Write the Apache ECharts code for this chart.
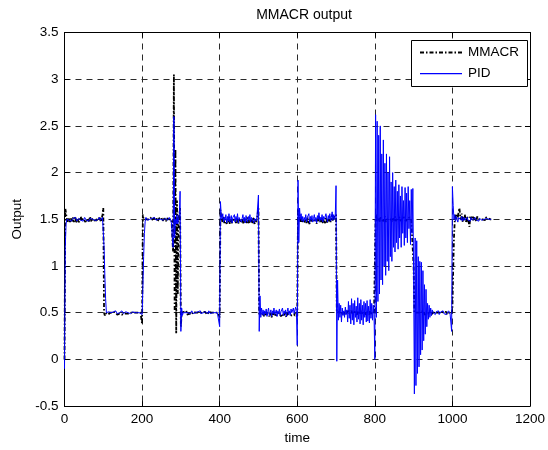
<!DOCTYPE html>
<html>
<head>
<meta charset="utf-8">
<script src="https://cdn.jsdelivr.net/npm/echarts@6/dist/echarts.min.js"></script>
<style>
html,body{margin:0;padding:0;background:#fff;}
#chart{width:548px;height:450px;}
</style>
</head>
<body>
<div id="chart"></div>
<script>
// sampling grid: time 0..1100, step 2
var timeStep = 2;
var xTicks = [0, 200, 400, 600, 800, 1000, 1200];
var yTicks = [-0.5, 0, 0.5, 1, 1.5, 2, 2.5, 3, 3.5];
var seriesNames = ['MMACR', 'PID'];

var pid = [
-0.1, 1.2, 1.45, 1.5, 1.52, 1.5, 1.49, 1.51, 1.5, 1.48,
1.5, 1.51, 1.49, 1.5, 1.52, 1.5, 1.48, 1.5, 1.51, 1.49,
1.5, 1.49, 1.51, 1.5, 1.48, 1.5, 1.52, 1.5, 1.49, 1.51,
1.5, 1.48, 1.5, 1.51, 1.5, 1.49, 1.5, 1.52, 1.5, 1.49,
1.5, 1.51, 1.49, 1.5, 1.5, 1.52, 1.49, 1.5, 1.51, 1.52,
1.5, 1.2, 0.9, 0.65, 0.5, 0.48, 0.5, 0.51, 0.49, 0.5,
0.5, 0.49, 0.5, 0.51, 0.5, 0.5, 0.52, 0.5, 0.49, 0.5,
0.51, 0.5, 0.49, 0.5, 0.52, 0.5, 0.49, 0.5, 0.5, 0.51,
0.5, 0.49, 0.5, 0.51, 0.5, 0.49, 0.5, 0.5, 0.51, 0.5,
0.49, 0.5, 0.5, 0.51, 0.5, 0.49, 0.5, 0.5, 0.49, 0.5,
0.48, 0.75, 1.1, 1.35, 1.48, 1.52, 1.5, 1.49, 1.5, 1.51,
1.5, 1.5, 1.49, 1.51, 1.5, 1.5, 1.52, 1.5, 1.49, 1.5,
1.51, 1.5, 1.49, 1.5, 1.5, 1.51, 1.5, 1.49, 1.5, 1.5,
1.51, 1.5, 1.5, 1.49, 1.5, 1.52, 1.5, 1.49, 1.45, 1.3,
1.2, 2.6, 1.3, 1.5, 1.45, 1.55, 1.45, 1.5, 1.55, 1.8,
0.3, 0.55, 0.47, 0.5, 0.52, 0.49, 0.5, 0.51, 0.48, 0.5,
0.5, 0.51, 0.49, 0.5, 0.52, 0.5, 0.49, 0.51, 0.5, 0.5,
0.49, 0.5, 0.51, 0.5, 0.5, 0.52, 0.49, 0.5, 0.51, 0.5,
0.5, 0.49, 0.51, 0.5, 0.5, 0.49, 0.52, 0.5, 0.49, 0.51,
0.5, 0.5, 0.52, 0.49, 0.5, 0.51, 0.48, 0.5, 0.51, 0.49,
0.35, 1.69, 1.55, 1.5, 1.56, 1.47, 1.52, 1.49, 1.55, 1.46,
1.53, 1.48, 1.56, 1.47, 1.51, 1.54, 1.46, 1.52, 1.5, 1.55,
1.47, 1.53, 1.49, 1.56, 1.46, 1.52, 1.5, 1.54, 1.47, 1.51,
1.55, 1.48, 1.52, 1.46, 1.54, 1.5, 1.47, 1.53, 1.49, 1.55,
1.47, 1.52, 1.5, 1.54, 1.46, 1.51, 1.53, 1.48, 1.52, 1.5,
1.76, 0.3, 0.68, 0.45, 0.55, 0.48, 0.53, 0.47, 0.52, 0.49,
0.54, 0.46, 0.51, 0.55, 0.47, 0.5, 0.53, 0.46, 0.52, 0.49,
0.55, 0.48, 0.5, 0.53, 0.46, 0.52, 0.49, 0.54, 0.47, 0.51,
0.5, 0.55, 0.47, 0.52, 0.49, 0.53, 0.46, 0.51, 0.55, 0.48,
0.52, 0.47, 0.54, 0.5, 0.48, 0.55, 0.49, 0.53, 0.56, 0.5,
0.15, 1.92, 1.25, 1.62, 1.5, 1.56, 1.48, 1.53, 1.47, 1.52,
1.49, 1.55, 1.47, 1.52, 1.5, 1.56, 1.46, 1.53, 1.49, 1.54,
1.47, 1.51, 1.55, 1.48, 1.52, 1.46, 1.54, 1.5, 1.57, 1.48,
1.52, 1.49, 1.55, 1.47, 1.53, 1.5, 1.48, 1.56, 1.51, 1.47,
1.54, 1.5, 1.56, 1.48, 1.52, 1.58, 1.49, 1.55, 1.5, 1.53,
1.86, -0.02, 0.85, 0.42, 0.6, 0.45, 0.58, 0.4, 0.55, 0.47,
0.52, 0.45, 0.56, 0.48, 0.53, 0.4, 0.62, 0.44, 0.58, 0.38,
0.65, 0.42, 0.6, 0.37, 0.63, 0.45, 0.57, 0.4, 0.66, 0.43,
0.6, 0.38, 0.64, 0.42, 0.58, 0.37, 0.62, 0.45, 0.6, 0.4,
0.63, 0.41, 0.57, 0.39, 0.64, 0.44, 0.6, 0.42, 0.58, 0.48,
0.0, 2.62, 0.45, 2.55, 0.62, 2.4, 0.7, 2.5, 0.85, 2.2,
0.8, 2.35, 1.0, 2.1, 0.9, 2.2, 1.05, 2.0, 0.95, 2.17,
1.1, 1.9, 1.05, 2.0, 1.2, 1.85, 1.15, 1.92, 1.25, 1.8,
1.18, 1.87, 1.3, 1.75, 1.2, 1.85, 1.35, 1.7, 1.22, 1.84,
1.3, 1.78, 1.25, 1.85, 1.4, 1.7, 1.23, 1.82, 1.35, 1.83,
0.9, -0.37, 1.3, -0.28, 1.27, -0.15, 1.1, -0.08, 1.05, 0.05,
1.04, 0.1, 0.95, 0.2, 0.8, 0.27, 0.75, 0.35, 0.6, 0.43,
0.58, 0.45, 0.55, 0.47, 0.53, 0.5, 0.49, 0.52, 0.48, 0.51,
0.5, 0.49, 0.52, 0.48, 0.5, 0.51, 0.49, 0.5, 0.52, 0.49,
0.5, 0.51, 0.48, 0.5, 0.49, 0.52, 0.5, 0.49, 0.51, 0.3,
1.85, 1.65, 1.5, 1.55, 1.48, 1.53, 1.5, 1.47, 1.52, 1.5,
1.51, 1.49, 1.53, 1.48, 1.5, 1.52, 1.49, 1.51, 1.5, 1.52,
1.49, 1.5, 1.51, 1.48, 1.52, 1.5, 1.49, 1.51, 1.5, 1.52,
1.5, 1.49, 1.51, 1.5, 1.48, 1.51, 1.5, 1.52, 1.49, 1.5,
1.51, 1.5, 1.49, 1.5, 1.51, 1.5, 1.52, 1.5, 1.49, 1.5,
1.5
];

var mmacr = [
0, 1.62, 1.56, 1.5, 1.47, 1.52, 1.49, 1.46, 1.51, 1.5,
1.48, 1.52, 1.47, 1.5, 1.53, 1.46, 1.5, 1.49, 1.52, 1.47,
1.5, 1.53, 1.48, 1.46, 1.51, 1.49, 1.52, 1.47, 1.5, 1.48,
1.52, 1.47, 1.49, 1.53, 1.48, 1.5, 1.46, 1.51, 1.49, 1.52,
1.47, 1.5, 1.52, 1.48, 1.49, 1.53, 1.5, 1.47, 1.51, 1.55,
1.62, 0.5, 0.47, 0.5, 0.49, 0.51, 0.48, 0.5, 0.49, 0.5,
0.49, 0.51, 0.5, 0.48, 0.5, 0.51, 0.49, 0.5, 0.48, 0.5,
0.5, 0.49, 0.51, 0.5, 0.48, 0.5, 0.5, 0.49, 0.51, 0.5,
0.49, 0.5, 0.51, 0.49, 0.5, 0.48, 0.5, 0.51, 0.49, 0.5,
0.5, 0.49, 0.5, 0.48, 0.5, 0.5, 0.49, 0.48, 0.5, 0.49,
0.38, 1.55, 1.5, 1.48, 1.52, 1.5, 1.49, 1.51, 1.5, 1.48,
1.5, 1.52, 1.49, 1.5, 1.48, 1.51, 1.5, 1.49, 1.52, 1.5,
1.48, 1.5, 1.51, 1.49, 1.5, 1.52, 1.48, 1.5, 1.49, 1.51,
1.5, 1.48, 1.51, 1.5, 1.49, 1.5, 1.52, 1.48, 1.5, 1.3,
1.15, 3.05, 0.5, 2.25, 0.28, 1.7, 0.7, 1.5, 1.55, 1.62,
0.35, 0.5, 0.48, 0.5, 0.51, 0.49, 0.5, 0.52, 0.48, 0.5,
0.5, 0.49, 0.51, 0.5, 0.48, 0.5, 0.51, 0.49, 0.5, 0.5,
0.48, 0.5, 0.5, 0.51, 0.49, 0.5, 0.48, 0.51, 0.5, 0.49,
0.5, 0.51, 0.49, 0.5, 0.48, 0.5, 0.51, 0.5, 0.49, 0.5,
0.51, 0.49, 0.5, 0.48, 0.5, 0.5, 0.49, 0.51, 0.5, 0.48,
0.45, 1.6, 1.52, 1.47, 1.5, 1.53, 1.46, 1.5, 1.52, 1.45,
1.5, 1.47, 1.53, 1.45, 1.5, 1.52, 1.46, 1.49, 1.51, 1.47,
1.5, 1.46, 1.52, 1.49, 1.45, 1.5, 1.48, 1.52, 1.46, 1.5,
1.48, 1.45, 1.51, 1.47, 1.5, 1.46, 1.52, 1.48, 1.45, 1.5,
1.47, 1.5, 1.46, 1.52, 1.48, 1.45, 1.5, 1.47, 1.5, 1.48,
1.62, 0.47, 0.5, 0.48, 0.52, 0.47, 0.5, 0.46, 0.51, 0.48,
0.5, 0.47, 0.49, 0.51, 0.46, 0.5, 0.48, 0.45, 0.5, 0.47,
0.51, 0.48, 0.46, 0.5, 0.47, 0.49, 0.45, 0.5, 0.48, 0.46,
0.49, 0.5, 0.46, 0.48, 0.47, 0.5, 0.45, 0.49, 0.5, 0.47,
0.48, 0.46, 0.5, 0.47, 0.45, 0.49, 0.47, 0.5, 0.48, 0.5,
0.45, 1.6, 1.5, 1.55, 1.47, 1.52, 1.46, 1.5, 1.48, 1.51,
1.47, 1.5, 1.46, 1.52, 1.48, 1.5, 1.45, 1.51, 1.48, 1.5,
1.46, 1.5, 1.52, 1.47, 1.5, 1.45, 1.51, 1.48, 1.53, 1.47,
1.5, 1.47, 1.52, 1.46, 1.5, 1.48, 1.46, 1.52, 1.49, 1.46,
1.51, 1.48, 1.53, 1.47, 1.5, 1.55, 1.48, 1.52, 1.5, 1.52,
1.55, 0.5, 0.52, 0.48, 0.51, 0.49, 0.52, 0.48, 0.5, 0.49,
0.51, 0.48, 0.52, 0.49, 0.5, 0.47, 0.52, 0.49, 0.51, 0.48,
0.52, 0.49, 0.5, 0.47, 0.51, 0.5, 0.49, 0.48, 0.52, 0.5,
0.5, 0.48, 0.52, 0.49, 0.5, 0.47, 0.51, 0.5, 0.49, 0.48,
0.51, 0.49, 0.5, 0.48, 0.52, 0.5, 0.49, 0.47, 0.5, 0.5,
0.5, 1.5, 1.55, 1.48, 1.52, 1.5, 1.47, 1.53, 1.5, 1.49,
1.52, 1.48, 1.5, 1.53, 1.47, 1.5, 1.52, 1.49, 1.5, 1.48,
1.51, 1.5, 1.47, 1.52, 1.5, 1.49, 1.53, 1.48, 1.5, 1.51,
1.49, 1.5, 1.52, 1.48, 1.5, 1.51, 1.49, 1.5, 1.52, 1.5,
1.48, 1.5, 1.51, 1.49, 1.5, 1.52, 1.5, 1.49, 1.51, 1.5,
1.0, 0.5, 0.48, 0.52, 0.5, 0.49, 0.51, 0.5, 0.48, 0.5,
0.51, 0.49, 0.5, 0.52, 0.48, 0.5, 0.5, 0.49, 0.51, 0.5,
0.49, 0.5, 0.51, 0.48, 0.5, 0.5, 0.52, 0.49, 0.5, 0.48,
0.5, 0.51, 0.49, 0.5, 0.48, 0.5, 0.51, 0.49, 0.5, 0.5,
0.49, 0.5, 0.51, 0.48, 0.5, 0.49, 0.5, 0.51, 0.5, 0.49,
0.55, 0.95, 1.3, 1.48, 1.56, 1.5, 1.55, 1.52, 1.58, 1.62,
1.54, 1.5, 1.56, 1.47, 1.52, 1.49, 1.55, 1.5, 1.46, 1.53,
1.5, 1.47, 1.42, 1.53, 1.5, 1.48, 1.54, 1.49, 1.52, 1.5,
1.51, 1.48, 1.53, 1.5, 1.49, 1.52, 1.5, 1.51, 1.49, 1.5,
1.5, 1.51, 1.49, 1.52, 1.5, 1.5, 1.51, 1.49, 1.5, 1.5,
1.5
];

function pairs(vals) {
  return vals.map(function (v, i) { return [i * timeStep, v]; });
}

var FONT = 'Liberation Sans';
var MMACR_DASH = [4, 2, 1.5, 2];
var chart = echarts.init(document.getElementById('chart'), null, {renderer: 'canvas'});
var axisLineStyle = {color: '#000', width: 1};
var gridDash = {color: '#2a2a2a', width: 1, type: [6, 5]};
var plainNum = function (v) { return String(v); };

chart.setOption({
  animation: false,
  backgroundColor: '#fff',
  title: {
    text: 'MMACR output',
    left: 299, top: 3, textAlign: 'center',
    textStyle: {fontFamily: FONT, fontSize: 14, fontWeight: 'normal', color: '#000'}
  },
  grid: {left: 64.5, right: 14.5, top: 32.5, bottom: 41, containLabel: false},
  xAxis: [{
    type: 'value', min: xTicks[0], max: xTicks[xTicks.length - 1], interval: 200,
    position: 'bottom',
    name: 'time', nameLocation: 'middle', nameGap: 22,
    nameTextStyle: {fontFamily: FONT, fontSize: 13.5, color: '#000'},
    axisLine: {show: true, onZero: false, lineStyle: axisLineStyle},
    axisTick: {show: true, inside: true, length: 5, lineStyle: axisLineStyle},
    axisLabel: {fontFamily: FONT, fontSize: 13.5, color: '#000', margin: 6, formatter: plainNum},
    splitLine: {show: true, lineStyle: gridDash}
  }, {
    type: 'value', min: xTicks[0], max: xTicks[xTicks.length - 1], interval: 200,
    position: 'top',
    axisLine: {show: true, onZero: false, lineStyle: axisLineStyle},
    axisTick: {show: true, inside: true, length: 5, lineStyle: axisLineStyle},
    axisLabel: {show: false},
    splitLine: {show: false}
  }],
  yAxis: [{
    type: 'value', min: yTicks[0], max: yTicks[yTicks.length - 1], interval: 0.5,
    position: 'left',
    name: 'Output', nameLocation: 'middle', nameGap: 33,
    nameTextStyle: {fontFamily: FONT, fontSize: 13.5, color: '#000'},
    axisLine: {show: true, onZero: false, lineStyle: axisLineStyle},
    axisTick: {show: true, inside: true, length: 5, lineStyle: axisLineStyle},
    axisLabel: {fontFamily: FONT, fontSize: 13.5, color: '#000', margin: 6, formatter: plainNum},
    splitLine: {show: true, lineStyle: gridDash}
  }, {
    type: 'value', min: yTicks[0], max: yTicks[yTicks.length - 1], interval: 0.5,
    position: 'right',
    axisLine: {show: true, onZero: false, lineStyle: axisLineStyle},
    axisTick: {show: true, inside: true, length: 5, lineStyle: axisLineStyle},
    axisLabel: {show: false},
    splitLine: {show: false}
  }],
  graphic: [{
    type: 'group', left: 411, top: 40, z: 100,
    children: [
      {type: 'rect', z: 100, shape: {x: 0.5, y: 0.5, width: 116, height: 46},
       style: {fill: '#ffffff', stroke: '#000', lineWidth: 1}},
      {type: 'line', z: 101, shape: {x1: 9, y1: 12.5, x2: 51, y2: 12.5},
       style: {stroke: '#000', lineWidth: 1.8, lineDash: MMACR_DASH}},
      {type: 'text', z: 101, x: 57, y: 12.5,
       style: {text: seriesNames[0], fontFamily: FONT, fontSize: 13.5, fill: '#000', verticalAlign: 'middle'}},
      {type: 'rect', z: 101, shape: {x: 9, y: 33, width: 42, height: 1.2},
       style: {fill: '#0000ff', stroke: null}},
      {type: 'text', z: 101, x: 57, y: 33.5,
       style: {text: seriesNames[1], fontFamily: FONT, fontSize: 13.5, fill: '#000', verticalAlign: 'middle'}}
    ]
  }],
  series: [{
    name: seriesNames[0], type: 'line', xAxisIndex: 0, yAxisIndex: 0,
    data: pairs(mmacr),
    showSymbol: false, symbol: 'none',
    lineStyle: {color: '#000', width: 1.8, type: MMACR_DASH},
    z: 3
  }, {
    name: seriesNames[1], type: 'line', xAxisIndex: 0, yAxisIndex: 0,
    data: pairs(pid),
    showSymbol: false, symbol: 'none',
    lineStyle: {color: '#0000ff', width: 1},
    z: 4
  }]
});
</script>
</body>
</html>
